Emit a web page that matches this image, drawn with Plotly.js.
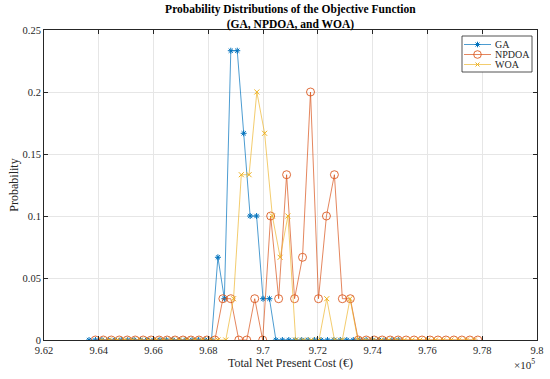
<!DOCTYPE html>
<html>
<head>
<meta charset="utf-8">
<script src="https://cdn.plot.ly/plotly-3.0.1.min.js"></script>
<style>html,body{margin:0;padding:0;background:#fff;}#chart{width:550px;height:379px;}</style>
</head>
<body>
<div id="chart"></div>
<script>
// Bin centres (euros): start and spacing of each algorithm's histogram
const gaStart = 963644, gaStep = 235.3;
const npdoaStart = 963876, npdoaStep = 290.9;
const woaStart = 964099, woaStep = 283.6;

const gaProb = [0,0,0,0,0,0,0,0,0,0,0,0,0,0,0,0,0,0,0,0,
  0.0667,0.0333,0.2333,0.2333,0.1667,0.1,0.1,0.0333,0.0333,
  0,0,0,0,0,0,0,0,0,0,0,0,0,0,0,0,0,0,0,0];
const npdoaProb = [0,0,0,0,0,0,0,0,0,0,0,0,0,0,0,0,
  0.0333,0.0333,0,0,0.0333,0,0.1,0.0333,0.1333,0.0333,0.0667,0.2,0.0333,0.1,0.1333,0.0333,0.0333,
  0,0,0,0,0,0,0,0,0,0,0,0,0,0,0,0];
const woaProb = [0,0,0,0,0,0,0,0,0,0,0,0,0,0,0,0,0,
  0.0333,0.1333,0.1333,0.2,0.1667,0.1,0.0667,0.1,0,0,0,0,0.0333,0,0,0.0333,
  0,0,0,0,0,0,0,0,0,0,0,0,0,0,0,0];

const seriesNames = ['GA','NPDOA','WOA'];
const xTickVals = [962000,964000,966000,968000,970000,972000,974000,976000,978000,980000];
const xTickText = ['9.62','9.64','9.66','9.68','9.7','9.72','9.74','9.76','9.78','9.8'];
const yTickVals = [0,0.05,0.1,0.15,0.2,0.25];
const yTickText = ['0','0.05','0.1','0.15','0.2','0.25'];

const serif = 'Liberation Serif, Times New Roman, serif';
const lineCols = ['rgba(0,114,189,0.7)','rgba(217,83,25,0.7)','rgba(237,177,32,0.65)'];
const markCols = ['#0072BD','rgba(217,83,25,0.85)','#EDB120'];

const traces = [
  {name:seriesNames[0], y:gaProb, x0:gaStart, dx:gaStep, type:'scatter', mode:'lines+markers',
   line:{color:lineCols[0], width:1},
   marker:{symbol:'asterisk-open', size:5, color:markCols[0], line:{color:markCols[0], width:1}}},
  {name:seriesNames[1], y:npdoaProb, x0:npdoaStart, dx:npdoaStep, type:'scatter', mode:'lines+markers',
   line:{color:lineCols[1], width:1},
   marker:{symbol:'circle-open', size:8, color:markCols[1], line:{color:markCols[1], width:1}}},
  {name:seriesNames[2], y:woaProb, x0:woaStart, dx:woaStep, type:'scatter', mode:'lines+markers',
   line:{color:lineCols[2], width:1},
   marker:{symbol:'x-thin-open', size:5, color:markCols[2], line:{color:markCols[2], width:1}}}
];

// plot area in pixels
const L = 44, R = 537, T = 30, B = 340;
const px = x => (x - L) / (R - L);
const py = y => (B - y) / (B - T);

// compact legend (MATLAB style) built from shapes and annotations
const shapes = [];
const annotations = [];
shapes.push({type:'rect', xref:'paper', yref:'paper', x0:px(462), x1:px(532), y0:py(36), y1:py(72),
             line:{color:'#262626', width:0.8}, fillcolor:'#ffffff', layer:'above'});
const rowY = [44.5, 54.5, 64.5];
const mx = 477.5;
rowY.forEach((ry, i) => {
  shapes.push({type:'line', xref:'paper', yref:'paper', x0:px(464), x1:px(491), y0:py(ry), y1:py(ry),
               line:{color:lineCols[i], width:1}, layer:'above'});
  annotations.push({text:seriesNames[i], xref:'paper', yref:'paper', x:px(493), y:py(ry), xanchor:'left', yanchor:'middle',
                    showarrow:false, font:{family:serif, size:10, color:'#262626'}});
});
// GA asterisk
const r = 2.8, d = 2.0;
[[-r,0,r,0],[0,-r,0,r],[-d,-d,d,d],[-d,d,d,-d]].forEach(s => shapes.push({type:'line', xref:'paper', yref:'paper',
  x0:px(mx+s[0]), y0:py(rowY[0]+s[1]), x1:px(mx+s[2]), y1:py(rowY[0]+s[3]), line:{color:markCols[0], width:1}, layer:'above'}));
// NPDOA circle
shapes.push({type:'circle', xref:'paper', yref:'paper', x0:px(mx-3.8), x1:px(mx+3.8), y0:py(rowY[1]-3.8), y1:py(rowY[1]+3.8),
             line:{color:markCols[1], width:1}, fillcolor:'rgba(0,0,0,0)', layer:'above'});
// WOA x
[[-d,-d,d,d],[-d,d,d,-d]].forEach(s => shapes.push({type:'line', xref:'paper', yref:'paper',
  x0:px(mx+s[0]), y0:py(rowY[2]+s[1]), x1:px(mx+s[2]), y1:py(rowY[2]+s[3]), line:{color:markCols[2], width:1}, layer:'above'}));

annotations.push({text:'×10<sup>5</sup>', xref:'paper', yref:'paper', x:1.0, y:-0.047, xanchor:'right', yanchor:'top',
                  showarrow:false, font:{family:serif, size:11, color:'#262626'}});

const axisCommon = {
  showline:true, linecolor:'#262626', linewidth:1, mirror:'ticks',
  ticks:'inside', ticklen:4, tickcolor:'#262626',
  showgrid:true, gridcolor:'#e6e6e6', gridwidth:1, zeroline:false,
  tickfont:{family:serif, size:10.5, color:'#262626'}
};

const layout = {
  width:550, height:379,
  margin:{l:L, r:550-R, t:T, b:379-B},
  paper_bgcolor:'#fff', plot_bgcolor:'#fff',
  font:{family:serif, color:'#262626'},
  title:{text:'<b>Probability Distributions of the Objective Function</b><br><b>(GA, NPDOA, and WOA)</b>',
         x:0.528, xanchor:'center', y:0.965, yanchor:'top', font:{family:serif, size:11.5, color:'#000'}},
  xaxis:Object.assign({}, axisCommon, {range:[962000,980000], tickvals:xTickVals, ticktext:xTickText,
         title:{text:'Total Net Present Cost (€)', font:{family:serif, size:12, color:'#262626'}, standoff:4}}),
  yaxis:Object.assign({}, axisCommon, {range:[0,0.25], tickvals:yTickVals, ticktext:yTickText,
         title:{text:'Probability', font:{family:serif, size:12, color:'#262626'}, standoff:1}}),
  shapes:shapes,
  annotations:annotations,
  showlegend:false
};

Plotly.newPlot('chart', traces, layout, {displayModeBar:false, staticPlot:true});
</script>
</body>
</html>
